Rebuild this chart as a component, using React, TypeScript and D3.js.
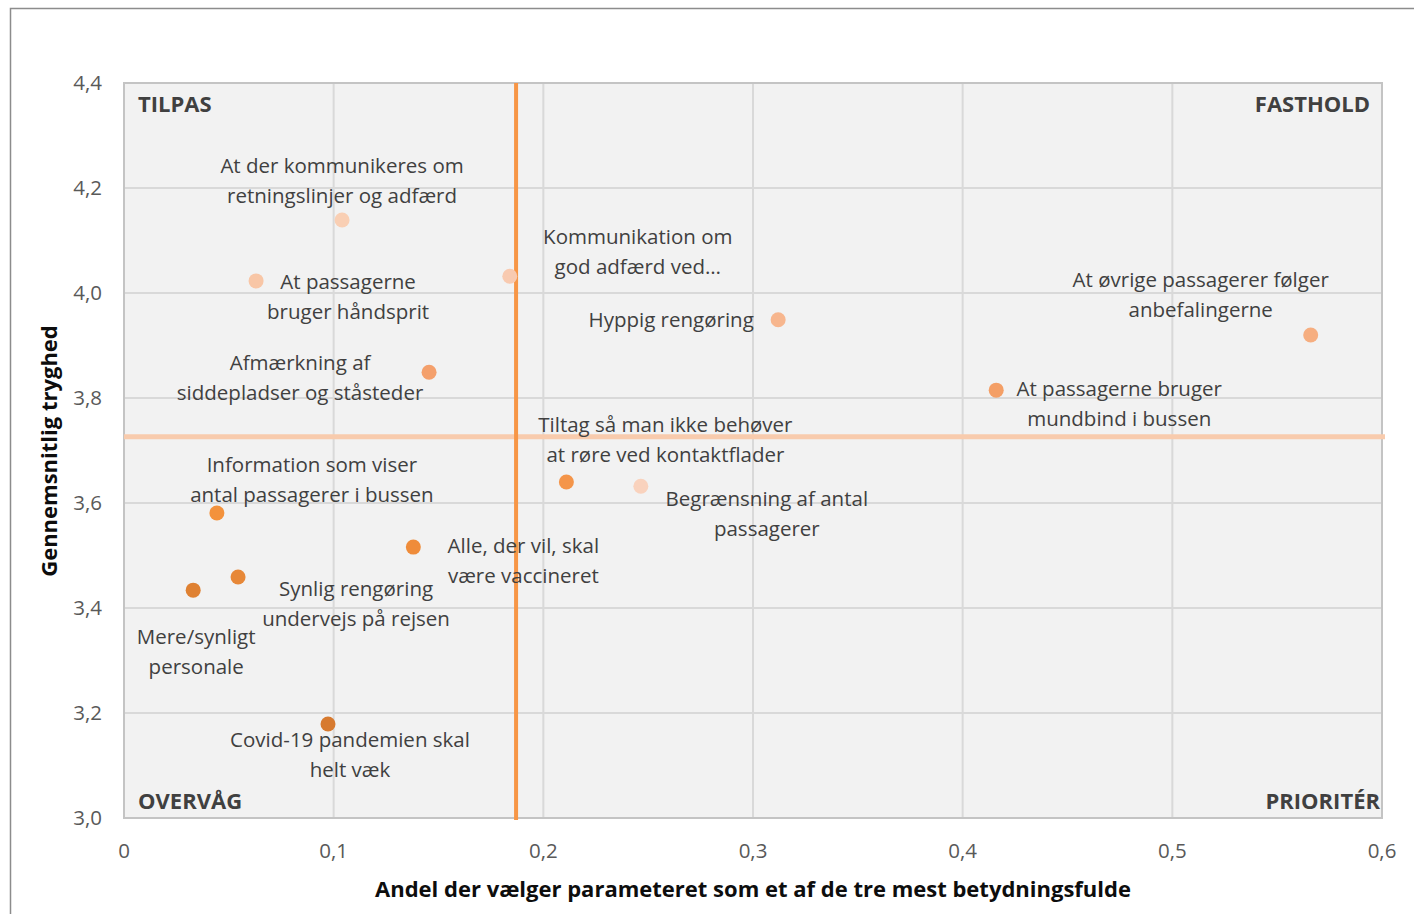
import React, { useEffect, useRef } from "react";
import * as d3 from "d3";

const labels: string[][] = [
  ["At der kommunikeres om", "retningslinjer og adfærd"],
  ["At passagerne", "bruger håndsprit"],
  ["Kommunikation om", "god adfærd ved…"],
  ["Hyppig rengøring"],
  ["At øvrige passagerer følger", "anbefalingerne"],
  ["Afmærkning af", "siddepladser og ståsteder"],
  ["At passagerne bruger", "mundbind i bussen"],
  ["Tiltag så man ikke behøver", "at røre ved kontaktflader"],
  ["Begrænsning af antal", "passagerer"],
  ["Information som viser", "antal passagerer i bussen"],
  ["Alle, der vil, skal", "være vaccineret"],
  ["Synlig rengøring", "undervejs på rejsen"],
  ["Mere/synligt", "personale"],
  ["Covid-19 pandemien skal", "helt væk"],
];
const shareValues: number[] = [0.104, 0.063, 0.184, 0.312, 0.566, 0.1455, 0.416, 0.211, 0.2465, 0.0443, 0.138, 0.0544, 0.033, 0.0973];
const safetyValues: number[] = [4.139, 4.023, 4.032, 3.949, 3.92, 3.849, 3.815, 3.64, 3.632, 3.581, 3.516, 3.459, 3.434, 3.179];
const pointColors: string[] = ["#f9cfb4", "#f8c6a6", "#f8cab0", "#f7b68e", "#f6ae80", "#f4a06c", "#f49f66", "#f4954a", "#f9d2bd", "#f3923c", "#ef8c3a", "#e78838", "#df8132", "#d77a2f"];
// label anchor offsets (layout only, px relative to point; first line centre)
const labelDx: number[] = [0, 92, 128, -107, -110, -129, 123, 99, 126, 95, 110, 118, 3, 22];
const labelDy: number[] = [-54, 1, -39, 0, -55, -9, -1, -57, 13, -48, -1, 12, 47, 16];

const xTicks: number[] = [0, 0.1, 0.2, 0.3, 0.4, 0.5, 0.6];
const yTicks: number[] = [3.0, 3.2, 3.4, 3.6, 3.8, 4.0, 4.2, 4.4];
const avgShare = 0.187;
const avgSafety = 3.726;
const quadrants = [
  { text: "TILPAS", corner: "tl" },
  { text: "FASTHOLD", corner: "tr" },
  { text: "OVERVÅG", corner: "bl" },
  { text: "PRIORITÉR", corner: "br" },
];
const xTitle = "Andel der vælger parameteret som et af de tre mest betydningsfulde";
const yTitle = "Gennemsnitlig tryghed";

export default function App() {
  const ref = useRef<SVGSVGElement>(null);
  useEffect(() => {
    const svg = d3.select(ref.current);
    svg.selectAll("*").remove();
    const W = 1414, H = 914;
    const L = 124, R = 1382, T = 83, B = 818;
    const x = d3.scaleLinear().domain([0, 0.6]).range([L, R]);
    const y = d3.scaleLinear().domain([3.0, 4.4]).range([B, T]);
    const font = "'Open Sans', 'Noto Sans', sans-serif";
    const fmt = (v: number) => (v === 0 ? "0" : d3.format(".1f")(v).replace(".", ","));

    svg.append("rect").attr("width", W).attr("height", H).attr("fill", "#ffffff");
    svg.append("rect").attr("x", 10.5).attr("y", 8.5).attr("width", W + 20).attr("height", H + 20)
      .attr("fill", "none").attr("stroke", "#8c8c8c").attr("stroke-width", 1.5);

    svg.append("rect").attr("x", L).attr("y", T).attr("width", R - L).attr("height", B - T).attr("fill", "#f2f2f2");
    svg.append("g").selectAll("line").data(xTicks).join("line")
      .attr("x1", d => x(d)).attr("x2", d => x(d)).attr("y1", T).attr("y2", B)
      .attr("stroke", "#d9d9d9").attr("stroke-width", 2);
    svg.append("g").selectAll("line").data(yTicks).join("line")
      .attr("x1", L).attr("x2", R).attr("y1", d => y(d)).attr("y2", d => y(d))
      .attr("stroke", "#d9d9d9").attr("stroke-width", 2);
    svg.append("rect").attr("x", L).attr("y", T).attr("width", R - L).attr("height", B - T)
      .attr("fill", "none").attr("stroke", "#c4c4c4").attr("stroke-width", 2);

    // tick labels
    svg.append("g").selectAll("text").data(yTicks).join("text")
      .attr("x", 102).attr("y", d => y(d)).attr("dy", "0.35em").attr("text-anchor", "end")
      .attr("font-family", font).attr("font-size", 20.5).attr("fill", "#595959").text(d => fmt(d));
    svg.append("g").selectAll("text").data(xTicks).join("text")
      .attr("x", d => x(d)).attr("y", 851).attr("dy", "0.35em").attr("text-anchor", "middle")
      .attr("font-family", font).attr("font-size", 20.5).attr("fill", "#595959").text(d => fmt(d));

    // axis titles
    svg.append("text").attr("x", 753).attr("y", 889).attr("dy", "0.35em").attr("text-anchor", "middle")
      .attr("font-family", font).attr("font-weight", "bold").attr("font-size", 22).attr("fill", "#0d0d0d").text(xTitle);
    svg.append("text").attr("transform", `translate(49,451) rotate(-90)`).attr("dy", "0.35em").attr("text-anchor", "middle")
      .attr("font-family", font).attr("font-weight", "bold").attr("font-size", 22).attr("fill", "#0d0d0d").text(yTitle);

    // reference lines
    svg.append("line").attr("x1", L).attr("x2", R + 3).attr("y1", y(avgSafety)).attr("y2", y(avgSafety))
      .attr("stroke", "#f8cbad").attr("stroke-width", 5);
    svg.append("line").attr("x1", x(avgShare)).attr("x2", x(avgShare)).attr("y1", T).attr("y2", B + 2)
      .attr("stroke", "#f79646").attr("stroke-width", 4);

    // quadrant labels
    const qg = svg.append("g");
    quadrants.forEach(q => {
      const left = q.corner.endsWith("l");
      const top = q.corner.startsWith("t");
      qg.append("text")
        .attr("x", left ? 138 : (q.corner === "tr" ? 1370 : 1380))
        .attr("y", top ? 104 : 801).attr("dy", "0.35em")
        .attr("text-anchor", left ? "start" : "end")
        .attr("font-family", font).attr("font-weight", "bold").attr("font-size", 22).attr("fill", "#404040")
        .text(q.text);
    });

    // points
    const idx = d3.range(shareValues.length);
    svg.append("g").selectAll("circle").data(idx).join("circle")
      .attr("cx", i => x(shareValues[i])).attr("cy", i => y(safetyValues[i])).attr("r", 7.5)
      .attr("fill", i => pointColors[i]);

    // labels
    const lg = svg.append("g");
    idx.forEach(i => {
      const cx = x(shareValues[i]) + labelDx[i];
      const cy = y(safetyValues[i]) + labelDy[i];
      const lines = labels[i];
      const lh = 29.5;
      const t = lg.append("text").attr("font-family", font).attr("font-size", 20.5).attr("fill", "#404040")
        .attr("text-anchor", "middle");
      lines.forEach((ln, k) => {
        t.append("tspan").attr("x", cx).attr("y", cy + k * lh).attr("dy", "0.35em").text(ln);
      });
    });
  }, []);
  return <svg ref={ref} width={1414} height={914} style={{ position: "absolute", left: 0, top: 0 }} />;
}
